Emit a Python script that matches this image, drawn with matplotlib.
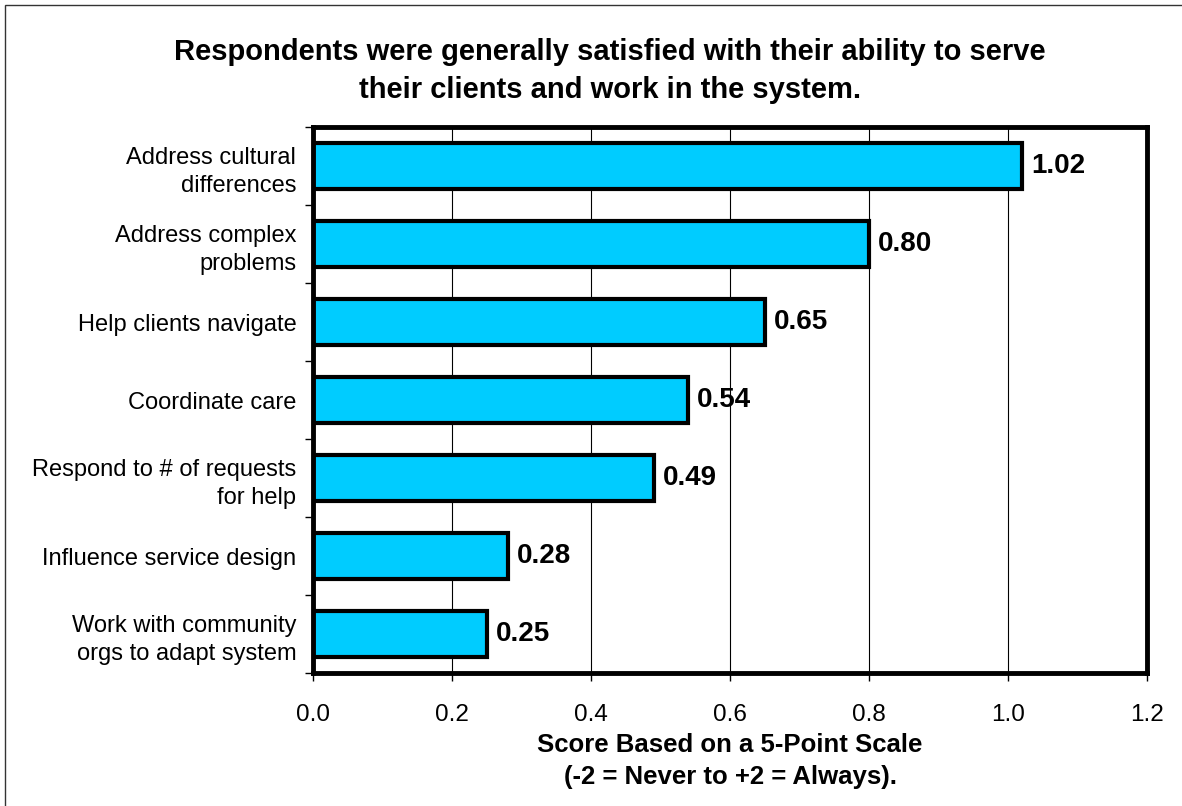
import matplotlib
matplotlib.use("Agg")
import matplotlib.pyplot as plt
from matplotlib.patches import Rectangle

categories = [
    "Address cultural\ndifferences",
    "Address complex\nproblems",
    "Help clients navigate",
    "Coordinate care",
    "Respond to # of requests\nfor help",
    "Influence service design",
    "Work with community\norgs to adapt system",
]
scores = [1.02, 0.80, 0.65, 0.54, 0.49, 0.28, 0.25]
xticks = [0.0, 0.2, 0.4, 0.6, 0.8, 1.0, 1.2]

title = ("Respondents were generally satisfied with their ability to serve\n"
         "their clients and work in the system.")
xlabel = "Score Based on a 5-Point Scale\n(-2 = Never to +2 = Always)."

plt.rcParams["font.family"] = ["Liberation Sans", "DejaVu Sans"]

W, H = 1182, 806
fig = plt.figure(figsize=(W / 100, H / 100), dpi=100)

# thin frame around the whole figure
fig.patches.append(Rectangle((5 / W, -0.1), 1.2, 1 - 5 / H + 0.1,
                             transform=fig.transFigure, fill=False,
                             edgecolor="#333333", linewidth=1.0))

ax = fig.add_axes([313 / W, 1 - 673 / H, (1147 - 313) / W, (673 - 127) / H])

n = len(categories)
ypos = list(range(n))
ax.barh(ypos, scores, height=0.6, color="#00CCFF", edgecolor="black",
        linewidth=3.0, zorder=3)

for y, v in zip(ypos, scores):
    ax.text(v + 0.013, y, f"{v:.2f}", va="center", ha="left",
            fontsize=20, fontweight="bold", zorder=4)

ax.set_xlim(0, 1.2)
ax.set_ylim(n - 0.5, -0.5)
ax.set_xticks(xticks)
ax.set_xticklabels([f"{t:.1f}" for t in xticks], fontsize=17.5)
ax.tick_params(axis="x", length=6, width=1, pad=16, direction="out")

ax.set_yticks(ypos)
ax.set_yticklabels(categories, fontsize=17, linespacing=1.4)
ax.tick_params(axis="y", length=0, pad=12)
# tick marks between categories
ax.set_yticks([i + 0.5 for i in range(-1, n)], minor=True)
ax.tick_params(axis="y", which="minor", length=6, width=1, direction="out")

ax.grid(axis="x", color="black", linewidth=0.8, zorder=0)
for s in ax.spines.values():
    s.set_linewidth(3.5)
    s.set_zorder(5)

ax.set_xlabel(xlabel, fontsize=18.5, fontweight="bold", linespacing=1.45,
              labelpad=5)

fig.text(610 / W, 1 - 71 / H, title, ha="center", va="center",
         fontsize=21, fontweight="bold", linespacing=1.42)

fig.savefig("out.png", dpi=100)
